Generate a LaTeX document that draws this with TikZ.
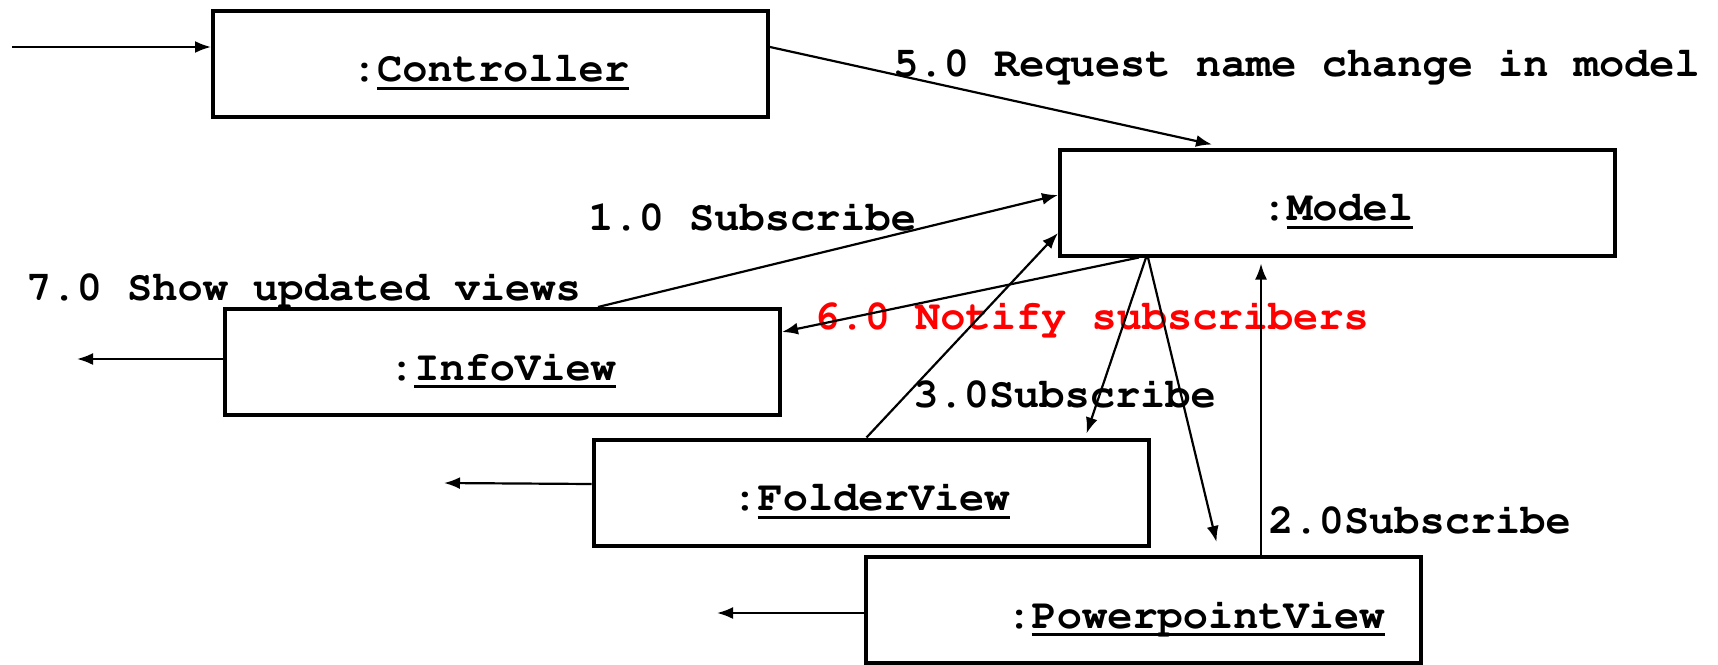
\documentclass[tikz,border=0pt]{standalone}
\usepackage[T1]{fontenc}
\renewcommand{\ttdefault}{pcr}
\usetikzlibrary{arrows.meta, positioning, calc}
\newcommand{\undl}[1]{\setbox0\hbox{#1}\rlap{\rule[-4pt]{\wd0}{1.5pt}}\box0}

\begin{document}
\begin{tikzpicture}[x=0.5pt,y=-0.5pt,
        >={Latex[length=8pt,width=6pt]},
        font=\ttfamily\bfseries\fontsize{21}{25}\selectfont,
        obj/.style={draw, line width=2pt, minimum width=277.5pt, minimum height=53pt,
            inner sep=0pt, text height=18pt, text depth=0pt},
        msg/.style={anchor=base west, inner sep=0pt},
        link/.style={line width=1.1pt}]
        \useasboundingbox (0,0) rectangle (1718,664);

        \node[obj] (ctrl) at (490.5,63.5) {:\undl{Controller}};
        \node[obj] (model) at (1337.5,202.5) {:\undl{Model}};
        \node[obj] (info) at (502.5,362) {:\undl{InfoView}};
        \node[obj] (folder) at (871,492.5) {:\undl{FolderView}};
        \node[obj] (ppt) at (1143,610) {\hspace*{52.5pt}:\undl{PowerpointView}};

        \node[msg] (m5) at (893,76) {5.0 Request name change in model};
        \node[msg] (m1) at (588,230) {1.0 Subscribe};
        \node[msg] (m7) at (26,300) {7.0 Show updated views};
        \node[msg, text=red] (m6) at (814,329) {6.0 Notify subscribers};
        \node[msg] (m3) at (913,407) {3.0Subscribe};
        \node[msg] (m2) at (1268,533) {2.0Subscribe};

        \coordinate (user) at (12,47);
        \coordinate (infoout) at (77,359);
        \coordinate (folderout) at (444,483);
        \coordinate (pptout) at (717,613);

        \draw[link,->] (user) -- ([yshift=8.25pt]ctrl.west);
        \draw[link,->] ([yshift=8.25pt]ctrl.east) -- ([xshift=-62.75pt,yshift=1.5pt]model.north);
        \draw[link,->] ([xshift=47.75pt]info.north) -- ([yshift=3.75pt]model.west);
        \draw[link,->] ([xshift=-2.25pt]folder.north) -- ([yshift=-15.25pt]model.west);
        \draw[link,->] ([xshift=-99.25pt]model.south) -- ([yshift=15pt]info.east);
        \draw[link,->] ([xshift=-95.75pt]model.south) -- ([xshift=107.75pt,yshift=2pt]folder.north);
        \draw[link,->] ([xshift=-94.75pt]model.south) -- ([xshift=36.75pt,yshift=6.5pt]ppt.north);
        \draw[link,->] ([xshift=59pt]ppt.north) -- ([xshift=-38.25pt,yshift=-3pt]model.south);
        \draw[link,->] ([yshift=1.5pt]info.west) -- (infoout);
        \draw[link,->] ([yshift=4.25pt]folder.west) -- (folderout);
        \draw[link,->] ([yshift=-1.5pt]ppt.west) -- (pptout);
\end{tikzpicture}
\end{document}
